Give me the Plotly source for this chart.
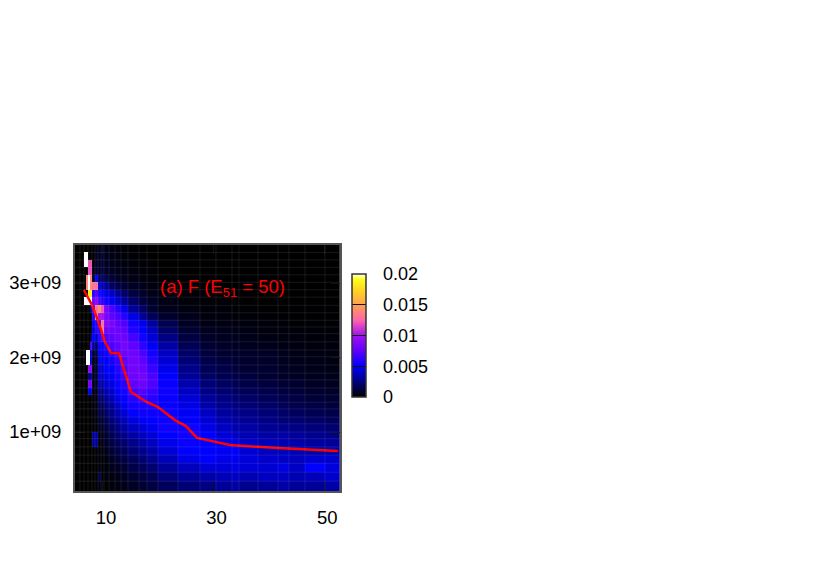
import numpy as np
import plotly.graph_objects as go

# bin edges: energy-like x and y (units of 1e9)
x_edges = [4.94, 5.84, 6.56, 6.93, 7.29, 7.65, 8.01, 8.55, 9.10, 9.64, 10.18, 11.08, 12.17, 13.25,
           14.52, 16.51, 17.96, 19.95, 23.56, 27.54, 30.43, 33.33, 34.59, 38.03, 41.65, 43.63, 46.53, 50.14, 52.77]
y_edges = [3.51, 3.41, 3.31, 3.21, 3.11, 3.01, 2.91, 2.81, 2.70, 2.60, 2.50, 2.41, 2.32, 2.21, 2.10, 2.01, 1.90,
           1.79, 1.70, 1.59, 1.50, 1.40, 1.31, 1.20, 1.11, 1.00, 0.91, 0.80, 0.69, 0.58, 0.46, 0.34, 0.21]

# heat values in units of 1e-3, top row first
rows = [
 [0,0,0,0,0,0,0,.6,.4,.8,.5,.3,.2,.1,.1,0,0,0,0,0,0,0,0,0,0,0,0,0],
 [0,0,25,25,0,0,0,.8,.5,1,.6,.4,.3,.2,.1,.1,0,0,0,0,0,0,0,0,0,0,0,0],
 [0,0,25,25,12,12,0,1,.6,1,.7,.5,.4,.3,.2,.1,.1,0,0,0,0,0,0,0,0,0,0,0],
 [0,0,0,0,12,12,.3,1.2,.5,1.2,.8,.6,.5,.4,.3,.2,.1,.05,0,0,0,0,0,0,0,0,0,0],
 [0,0,0,14,25,14,1,5,2,2,1.5,1,.8,.6,.4,.3,.2,.1,.05,0,0,0,0,0,0,0,0,0],
 [0,0,0,14,25,14,13,13,4,3.5,3,2,1.5,1,.7,.5,.3,.2,.1,.05,0,0,0,0,0,0,0,0],
 [0,0,0,0,18.5,18.5,6,7,5.5,5,4.5,4,3,2,1.3,.8,.5,.3,.15,.1,.05,0,0,0,0,0,0,0],
 [0,0,25,25,25,25,8,9,7,6,5.5,4.8,4,3,2,1.2,.7,.4,.2,.1,.1,.05,0,0,0,0,0,0],
 [0,0,0,0,0,3,7,13,14,12,8.5,7,6,4.5,3,2,1,.5,.3,.2,.15,.1,.1,.05,0,0,0,0],
 [0,0,0,0,0,0,6,14,10,10,8.5,7.5,7,6,4.5,3,1.8,.9,.5,.3,.25,.2,.15,.1,.1,.05,.05,.05],
 [0,0,0,0,0,0,5,6,7,13,9,8.5,7.5,7,5.5,4.5,3,1.5,.7,.4,.35,.3,.25,.2,.15,.1,.1,.1],
 [0,0,0,0,0,.5,4,6,6,13,8,8,8,7.5,6,5,3.8,2,1,.6,.5,.5,.4,.3,.25,.2,.15,.15],
 [0,0,0,0,0,2,5,4,6,7,7,7.5,8,8,6.8,5.5,4.2,2.6,1.3,.8,.6,.6,.5,.4,.3,.3,.2,.2],
 [0,0,0,0,0,7,3,2,5,5,6,7,7.5,8.3,7.5,6.2,4.8,3.2,1.7,1,.8,.7,.6,.5,.4,.35,.3,.25],
 [0,0,0,25,25,4,1,1.5,4.5,4.5,5.5,6,7,8,8,7,5.5,3.8,2,1.2,1,.9,.8,.7,.5,.45,.4,.3],
 [0,0,0,25,25,4,.5,1,4.5,4.5,5,5.5,6.3,7.3,8.2,7.5,6,4.2,2.3,1.4,1.2,1,.9,.8,.6,.5,.45,.35],
 [0,0,0,0,9,9,.5,1,4,4,5,5,6,7,8.2,7.8,6.5,4.6,2.7,1.7,1.4,1.2,1,.9,.7,.6,.5,.4],
 [0,0,0,0,2,3,.5,1,4,3.8,4.5,4.8,5.6,6.5,8,8.2,7,5,3,2,1.6,1.4,1.2,1,.8,.7,.6,.5],
 [0,0,0,0,8,8,.5,.8,3.5,3.2,4,4.5,5.3,6,7.5,8,7,5.2,3.4,2.3,1.9,1.6,1.4,1.2,1,.9,.7,.6],
 [0,0,0,0,4.5,4.5,.3,.6,2.8,2.6,3.5,4,5,5.6,6.8,7.2,6.5,5.3,3.8,2.6,2.2,1.9,1.7,1.5,1.2,1.1,.9,.8],
 [0,0,0,0,0,0,.3,.5,2.2,2,3,3.5,4.5,5.2,6,6.5,6,5.2,4.2,3,2.5,2.2,2,1.7,1.5,1.3,1.1,1],
 [0,0,0,0,0,0,.2,.4,1.8,1.6,2.5,3,4,4.8,5.5,5.7,5.7,5.2,4.5,3.3,2.8,2.5,2.3,2,1.7,1.5,1.3,1.2],
 [0,0,0,0,0,0,.2,.5,1.4,1.2,2,2.7,3.5,4.2,5,5.3,5.3,5.3,4.8,3.8,3.1,2.8,2.6,2.3,2,1.8,1.6,1.4],
 [0,0,0,0,0,0,.1,.3,1,1,1.6,2.3,3,3.7,4.3,4.8,5,5.3,5,4.2,3.4,3.2,2.9,2.6,2.3,2.2,2,1.8],
 [0,0,0,0,0,0,.1,.2,.7,.7,1.3,1.9,2.6,3.2,3.8,4.2,4.7,5.4,5.4,4.5,3.8,3.4,3.2,2.9,2.8,2.6,2.4,2.2],
 [0,0,0,0,0,0,3,3,.5,.5,1,1.6,2.2,2.7,3.2,3.8,4.2,5,5.4,5,4.2,3.8,3.5,3.2,3.2,3,2.8,2.6],
 [0,0,0,0,0,0,3,3,.3,.3,.8,1.3,1.8,2.2,2.7,3.2,3.8,4.6,5.2,5,4.5,4.5,4,3.6,3.5,3.3,3.1,3],
 [0,0,0,0,0,0,0,.1,.2,.2,.5,1,1.4,1.8,2.3,2.8,3.3,4.2,5,5,4.8,5,4.2,3.7,3.6,3.5,3.3,3.3],
 [0,0,0,0,0,0,0,.1,.2,.1,.3,.7,1,1.4,1.8,2.3,2.8,3.6,4.5,5,4.6,4.7,4.3,4,3.8,3.7,4,4],
 [0,0,0,0,0,0,0,.1,.2,.1,.2,.5,.7,1,1.4,1.8,2.2,3,3.7,4.2,4.2,4.5,4.2,4.1,4.4,3.8,5,4.3],
 [0,0,0,0,0,0,0,.1,1.5,.1,.2,.3,.5,.7,1,1.3,1.7,2.4,3,3.3,3.6,3.8,3.5,3.8,3.8,3.5,3.6,4],
 [0,0,0,0,0,0,0,0,.5,.1,.1,.3,.3,.5,.7,1,1.3,1.8,2.3,2.6,3,3.2,2.8,3,3.2,3,3,3.3],
]

# red curve
line_x = [6.56, 8.01, 8.92, 10.36, 11.45, 12.89, 15.06, 17.96, 19.95, 23.0, 25.0, 27.0, 33.0, 41.6, 52.5]
line_y = [2.906, 2.705, 2.53, 2.21, 2.06, 2.06, 1.537, 1.40, 1.335, 1.16, 1.08, 0.92, 0.825, 0.785, 0.745]

x_ticks = [10, 30, 50]
y_ticks = [1e9, 2e9, 3e9]
y_tick_text = ["1e+09", "2e+09", "3e+09"]
cbar_ticks = [0, 0.005, 0.01, 0.015, 0.02]
cbar_text = ["0", "0.005", "0.01", "0.015", "0.02"]

colorscale = [
    [0.0, "#000000"], [0.125, "#000080"], [0.25, "#0000ff"], [0.375, "#6000ff"],
    [0.5, "#a010f0"], [0.625, "#ff64aa"], [0.75, "#ffa050"], [0.875, "#ffd820"],
    [0.96, "#ffff20"], [1.0, "#ffffff"],
]

# the page body has an 8 px margin, so the figure is 8 px smaller and offset
PAGE = 8
W, H = 830 - PAGE, 581 - PAGE
FONT = "Liberation Sans, Arial, sans-serif"
xe = np.array(x_edges)
ye = np.array(y_edges) * 1e9
z = np.array(rows) * 1e-3

def px(v):
    return (v - PAGE) / W

def py(v):
    return 1 - (v - PAGE) / H

fig = go.Figure()
fig.add_trace(go.Heatmap(
    x=xe, y=ye, z=z, zmin=0, zmax=0.02, colorscale=colorscale, hoverinfo="skip",
    colorbar=dict(
        x=px(352), xanchor="left", xpad=0, thickness=14, thicknessmode="pixels",
        y=py(397), yanchor="bottom", ypad=0, len=123 / H, lenmode="fraction",
        outlinecolor="#333333", outlinewidth=1.5, borderwidth=0,
        tickvals=cbar_ticks, ticktext=["\u00a0\u2009\u2009" + t for t in cbar_text],
        ticks="inside", ticklen=14, tickcolor="#111111", tickwidth=1,
        tickfont=dict(family=FONT, size=18, color="black"),
    ),
))
fig.add_trace(go.Scatter(x=line_x, y=[v * 1e9 for v in line_y], mode="lines",
                         line=dict(color="#ff0000", width=2.5), showlegend=False, hoverinfo="skip"))

grid = dict(line=dict(color="rgba(255,255,255,0.09)", width=1), layer="above")
skip_x = {6.93, 7.65}
for v in x_edges[1:-1]:
    if v not in skip_x:
        fig.add_shape(type="line", x0=v, x1=v, y0=ye[-1], y1=ye[0], **grid)
for v in ye[1:-1]:
    fig.add_shape(type="line", x0=xe[0], x1=xe[-1], y0=v, y1=v, **grid)

fig.add_annotation(x=31.6, y=2.93e9, text="(a) F (E<sub>51</sub> = 50)", showarrow=False,
                   font=dict(family=FONT, size=18.5, color="#ff0000"))

axis_common = dict(showgrid=False, zeroline=False, showline=True, mirror="ticks", linecolor="#555555",
                   linewidth=2, ticks="inside", ticklen=9, tickcolor="#111111", tickwidth=1,
                   tickfont=dict(family=FONT, size=18.5, color="black"))
fig.update_layout(
    width=W, height=H, autosize=False, margin=dict(l=0, r=0, t=0, b=0),
    paper_bgcolor="white", plot_bgcolor="black", showlegend=False,
    xaxis=dict(domain=[px(75), px(339.5)], range=[4.94, 52.77], tickvals=x_ticks,
               ticktext=[str(v) for v in x_ticks], ticklabelstandoff=9, ticklabelshift=3, **axis_common),
    yaxis=dict(domain=[py(491), py(245)], range=[0.208e9, 3.51e9], tickvals=y_ticks,
               ticktext=y_tick_text, ticklabelstandoff=8, **axis_common),
)
fig.write_html("out.html")
